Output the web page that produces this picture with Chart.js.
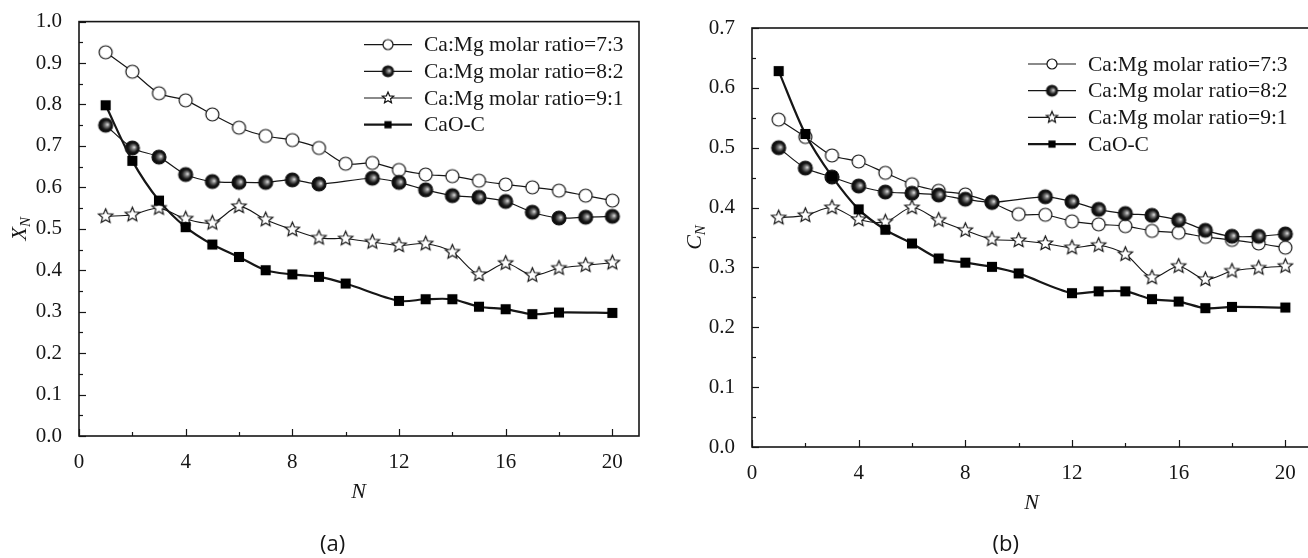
<!DOCTYPE html>
<html>
<head>
<meta charset="utf-8">
<script src="https://cdn.jsdelivr.net/npm/chart.js@4.4.0/dist/chart.umd.min.js"></script>
<style>
  html, body { margin: 0; background: #fff; overflow: hidden; }
  body { width: 1308px; height: 558px; position: relative; }
  .painel { position: absolute; top: 0; height: 558px; }
  #boxA { left: 0; width: 654px; }
  #boxB { left: 654px; width: 670px; }
</style>
</head>
<body>
<div class="painel" id="boxA"><canvas id="grafA"></canvas></div>
<div class="painel" id="boxB"><canvas id="grafB"></canvas></div>
<script>
// cycle number N
const ciclos = [1,2,3,4,5,6,7,8,9,10,11,12,13,14,15,16,17,18,19,20];
const rotulos = ['Ca:Mg molar ratio=7:3', 'Ca:Mg molar ratio=8:2', 'Ca:Mg molar ratio=9:1', 'CaO-C'];

// (a) X_N
const xn73 = [0.926,0.879,0.827,0.810,0.776,0.744,0.724,0.714,0.695,0.657,0.659,0.642,0.631,0.627,0.616,0.607,0.600,0.592,0.580,0.568];
const xn82 = [0.750,0.695,0.673,0.631,0.614,0.612,0.612,0.618,0.608,null,0.622,0.612,0.594,0.580,0.576,0.566,0.540,0.526,0.528,0.530];
const xn91 = [0.530,0.534,0.550,0.524,0.514,0.554,0.522,0.498,0.478,0.476,0.468,0.460,0.464,0.444,0.390,0.417,0.388,0.405,0.412,0.418];
const xnCaO = [0.798,0.664,0.568,0.504,0.462,0.432,0.400,0.390,0.384,0.368,null,0.326,0.330,0.330,0.312,0.306,0.294,0.298,null,0.297];

// (b) C_N
const cn73 = [0.547,0.518,0.487,0.477,0.458,0.439,0.428,0.422,0.408,0.389,0.388,0.377,0.372,0.369,0.361,0.358,0.351,0.346,0.340,0.333];
const cn82 = [0.500,0.466,0.451,0.436,0.426,0.424,0.421,0.414,0.409,null,0.418,0.410,0.397,0.390,0.387,0.379,0.362,0.352,0.352,0.356];
const cn91 = [0.383,0.387,0.400,0.380,0.376,0.400,0.379,0.362,0.347,0.345,0.340,0.333,0.337,0.322,0.283,0.302,0.280,0.294,0.299,0.302];
const cnCaO = [0.628,0.523,0.452,0.397,0.363,0.340,0.315,0.308,0.301,0.290,null,0.257,0.260,0.260,0.247,0.243,0.232,0.234,null,0.233];

// ticks
const ticksX = [0,4,8,12,16,20];
const ticksYA = [0.0,0.1,0.2,0.3,0.4,0.5,0.6,0.7,0.8,0.9,1.0];
const ticksYB = [0.0,0.1,0.2,0.3,0.4,0.5,0.6,0.7];

const serif = '"Liberation Serif", "Times New Roman", serif';
const tinta = '#161616';

// markers drawn on small canvases
function marcador(tipo, r) {
  const s = Math.ceil(r * 2 + 4);
  const c = document.createElement('canvas');
  c.width = s; c.height = s;
  const g = c.getContext('2d');
  const m = s / 2;
  g.lineWidth = 1.2;
  g.strokeStyle = tinta;
  if (tipo === 'aberto') {
    g.beginPath(); g.arc(m, m, r, 0, Math.PI * 2);
    g.fillStyle = '#fff'; g.fill(); g.stroke();
  } else if (tipo === 'bola') {
    const gr = g.createRadialGradient(m + r * 0.3, m - r * 0.1, 0, m, m, r);
    gr.addColorStop(0, '#e6e6e6');
    gr.addColorStop(0.3, '#7a7a7a');
    gr.addColorStop(0.65, '#1c1c1c');
    gr.addColorStop(1, '#000');
    g.beginPath(); g.arc(m, m, r, 0, Math.PI * 2);
    g.fillStyle = gr; g.fill(); g.stroke();
  } else if (tipo === 'estrela') {
    g.beginPath();
    for (let i = 0; i < 10; i++) {
      const rr = i % 2 === 0 ? r : r * 0.45;
      const a = -Math.PI / 2 + i * Math.PI / 5;
      const px = m + rr * Math.cos(a), py = m + rr * Math.sin(a);
      if (i === 0) g.moveTo(px, py); else g.lineTo(px, py);
    }
    g.closePath();
    g.fillStyle = '#fff'; g.fill(); g.stroke();
  } else {
    const h = r * 0.72;
    g.fillStyle = '#000';
    g.fillRect(m - h, m - h, 2 * h, 2 * h);
  }
  return c;
}

const estilos = [
  { ponto: marcador('aberto', 6.5), leg: marcador('aberto', 5), largura: 1.2 },
  { ponto: marcador('bola', 7), leg: marcador('bola', 5.5), largura: 1.2 },
  { ponto: marcador('estrela', 7.5), leg: marcador('estrela', 6), largura: 1.1 },
  { ponto: marcador('quadrado', 7), leg: marcador('quadrado', 5), largura: 2.2 }
];

function montarSeries(listas) {
  return listas.map((vals, k) => ({
    label: rotulos[k],
    data: ciclos.map((n, i) => ({ x: n, y: vals[i] })),
    borderColor: tinta,
    borderWidth: estilos[k].largura,
    pointStyle: estilos[k].ponto,
    pointRadius: 7,
    tension: 0.3,
    spanGaps: true,
    clip: false,
    order: 3 - k
  }));
}

// frame, inward ticks, titles, legend
const moldura = {
  id: 'moldura',
  afterDraw(chart) {
    const o = chart.options.plugins.moldura;
    const ctx = chart.ctx;
    const a = chart.chartArea;
    const sx = chart.scales.x, sy = chart.scales.y;
    ctx.save();
    ctx.strokeStyle = tinta;
    ctx.lineWidth = 1.2;
    for (let v = 0; v <= 20; v += 2) {
      const px = Math.round(sx.getPixelForValue(v)) + 0.5;
      const len = v % 4 === 0 ? 7 : 4;
      ctx.beginPath(); ctx.moveTo(px, a.bottom); ctx.lineTo(px, a.bottom - len); ctx.stroke();
    }
    for (let j = 0; j <= o.yMax * 20 + 0.01; j++) {
      const py = Math.round(sy.getPixelForValue(j * 0.05)) + 0.5;
      const len = j % 2 === 0 ? 7 : 4;
      ctx.beginPath(); ctx.moveTo(a.left, py); ctx.lineTo(a.left + len, py); ctx.stroke();
    }
    ctx.lineWidth = 1.6;
    ctx.strokeRect(a.left, a.top, a.right - a.left, a.bottom - a.top);

    // y title with subscript
    ctx.fillStyle = tinta;
    ctx.textBaseline = 'middle';
    ctx.translate(o.yTitleX, (a.top + a.bottom) / 2);
    ctx.rotate(-Math.PI / 2);
    ctx.font = 'italic 22px ' + serif;
    const w1 = ctx.measureText(o.yTitle).width;
    ctx.font = 'italic 15px ' + serif;
    const w2 = ctx.measureText('N').width;
    ctx.textAlign = 'left';
    ctx.font = 'italic 22px ' + serif;
    ctx.fillText(o.yTitle, -(w1 + w2) / 2, 0);
    ctx.font = 'italic 15px ' + serif;
    ctx.fillText('N', -(w1 + w2) / 2 + w1, 6);
    ctx.setTransform(1, 0, 0, 1, 0, 0);
    ctx.scale(chart.currentDevicePixelRatio, chart.currentDevicePixelRatio);

    // x title and panel letter, centred on the 0-20 span
    const cx = (sx.getPixelForValue(0) + sx.getPixelForValue(20)) / 2;
    ctx.textAlign = 'center';
    ctx.font = 'italic 22px ' + serif;
    ctx.fillText('N', cx + 13, a.bottom + 56);
    ctx.font = '22px "Open Sans", "Noto Sans", sans-serif';
    ctx.fillText(o.letra, cx - 13, 545);

    // legend
    ctx.textAlign = 'left';
    chart.data.datasets.forEach((ds, k) => {
      const y = a.top + o.legDy + k * 26.7;
      const x0 = a.right - o.legDx;
      ctx.lineWidth = estilos[k].largura;
      ctx.beginPath(); ctx.moveTo(x0, y); ctx.lineTo(x0 + 48, y); ctx.stroke();
      const img = estilos[k].leg;
      ctx.drawImage(img, x0 + 24 - img.width / 2, y - img.height / 2);
      ctx.font = '21.5px ' + serif;
      ctx.fillText(ds.label, x0 + 60, y + 1);
    });
    ctx.restore();
  }
};

function eixos(ticksY, yMax, larguraY, alturaX) {
  return {
    x: {
      type: 'linear', min: 0, max: 21,
      afterBuildTicks: s => { s.ticks = ticksX.map(v => ({ value: v })); },
      afterFit: s => { s.height = alturaX; },
      grid: { display: false },
      border: { display: false },
      ticks: { padding: 6, color: tinta, font: { family: serif, size: 21 }, maxRotation: 0 }
    },
    y: {
      min: 0, max: yMax,
      afterBuildTicks: s => { s.ticks = ticksY.map(v => ({ value: v })); },
      afterFit: s => { s.width = larguraY; },
      grid: { display: false },
      border: { display: false },
      ticks: { padding: 9, color: tinta, font: { family: serif, size: 21 }, callback: v => v.toFixed(1) }
    }
  };
}

new Chart(document.getElementById('grafA'), {
  type: 'line',
  data: { datasets: montarSeries([xn73, xn82, xn91, xnCaO]) },
  options: {
    responsive: true,
    maintainAspectRatio: false,
    animation: false,
    layout: { padding: { left: 0, top: 19, right: 15, bottom: 0 } },
    scales: eixos(ticksYA, 1.0, 79, 122),
    plugins: {
      legend: { display: false },
      tooltip: { enabled: false },
      moldura: { yTitle: 'X', yTitleX: 20, yMax: 1.0, letra: '(a)', legDx: 275, legDy: 23 }
    }
  },
  plugins: [moldura]
});

new Chart(document.getElementById('grafB'), {
  type: 'line',
  data: { datasets: montarSeries([cn73, cn82, cn91, cnCaO]) },
  options: {
    responsive: true,
    maintainAspectRatio: false,
    animation: false,
    layout: { padding: { left: 0, top: 28, right: 12, bottom: 0 } },
    scales: eixos(ticksYB, 0.7, 98, 111),
    plugins: {
      legend: { display: false },
      tooltip: { enabled: false },
      moldura: { yTitle: 'C', yTitleX: 41, yMax: 0.7, letra: '(b)', legDx: 284, legDy: 36 }
    }
  },
  plugins: [moldura]
});
</script>
</body>
</html>
